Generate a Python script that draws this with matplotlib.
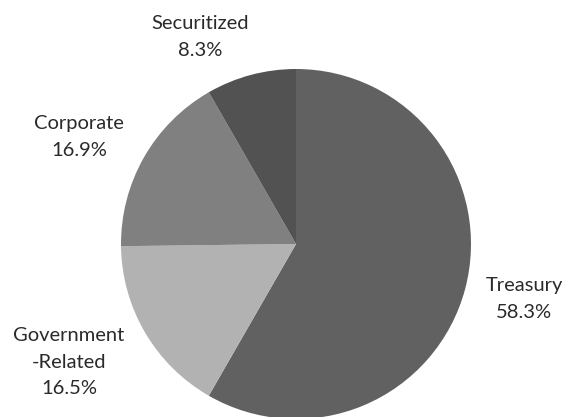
import matplotlib
matplotlib.use('Agg')
import matplotlib.pyplot as plt

plt.rcParams['font.family'] = ['Lato', 'DejaVu Sans']

# 데이터 (시계방향, 12시 방향부터)
sectors = ['Treasury', 'Government\n-Related', 'Corporate', 'Securitized']
shares = [58.3, 16.5, 16.9, 8.3]
colors = ['#616161', '#b2b2b2', '#808080', '#525252']

# 라벨 위치 (픽셀, 좌상단 기준) - 레이아웃용
label_pos = [(524, 299), (69, 362), (79, 137), (200, 37)]

W, H = 566, 417
fig = plt.figure(figsize=(W / 100, H / 100), dpi=100)
ax = fig.add_axes([0, 0, 1, 1])

ax.pie(shares, colors=colors, startangle=90, counterclock=False,
       center=(296, H - 244), radius=175, frame=True,
       wedgeprops={'linewidth': 0})
ax.set_xlim(0, W)
ax.set_ylim(0, H)
ax.set_aspect('equal')
ax.axis('off')

for name, val, (x, y) in zip(sectors, shares, label_pos):
    ax.text(x, H - y, f"{name}\n{val:.1f}%", ha='center', va='center',
            fontsize=14.5, linespacing=1.65, color='#2a2a2a')

plt.savefig('out.png', dpi=100)
plt.close()
